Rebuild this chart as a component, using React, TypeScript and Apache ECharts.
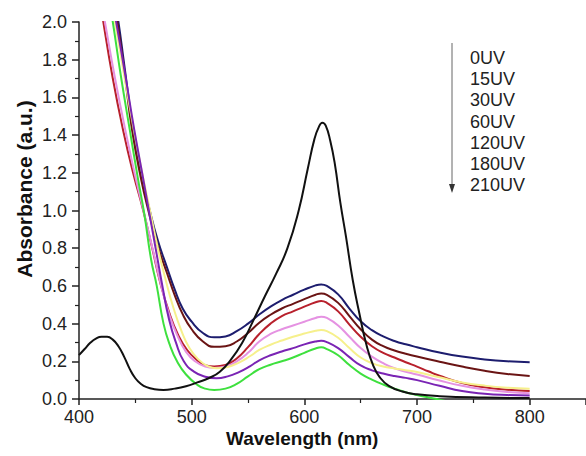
import React, { useEffect, useRef } from "react";
import * as echarts from "echarts";

const FONT = "'Liberation Sans', Arial, Helvetica, sans-serif";

const legendLabels = ["0UV", "15UV", "30UV", "60UV", "120UV", "180UV", "210UV"];
const xAxisTitle = "Wavelength (nm)";
const yAxisTitle = "Absorbance (a.u.)";

// [wavelength nm, absorbance]
const uv0: [number, number][] = [
  [432, 2.1], [435, 2.0], [440, 1.78], [448, 1.43], [455, 1.2], [462, 1.02], [470, 0.84],
  [478, 0.7], [485, 0.58], [492, 0.48], [500, 0.41], [510, 0.35], [520, 0.327], [530, 0.332],
  [540, 0.36], [550, 0.4], [560, 0.448], [570, 0.49], [580, 0.525], [590, 0.553], [600, 0.58],
  [610, 0.603], [615, 0.608], [620, 0.6], [630, 0.555], [640, 0.48], [650, 0.412], [660, 0.365],
  [670, 0.332], [680, 0.308], [690, 0.29], [700, 0.275], [720, 0.247], [740, 0.225], [760, 0.21],
  [780, 0.2], [800, 0.195],
];
const uv15: [number, number][] = [
  [431, 2.1], [434, 2.0], [440, 1.75], [447, 1.43], [455, 1.17], [462, 0.99], [470, 0.81],
  [478, 0.67], [485, 0.55], [492, 0.45], [500, 0.37], [510, 0.305], [520, 0.277], [530, 0.28],
  [540, 0.305], [550, 0.35], [560, 0.405], [570, 0.447], [580, 0.48], [590, 0.505], [600, 0.53],
  [610, 0.553], [615, 0.56], [620, 0.553], [630, 0.51], [640, 0.44], [650, 0.37], [660, 0.315],
  [670, 0.28], [680, 0.257], [690, 0.24], [700, 0.225], [720, 0.198], [740, 0.172], [760, 0.15],
  [780, 0.133], [800, 0.122],
];
const uv30: [number, number][] = [
  [418, 2.15], [421.6, 2.0], [430, 1.7], [439, 1.43], [448, 1.2], [457, 1.0], [465, 0.8],
  [472, 0.62], [480, 0.46], [488, 0.34], [496, 0.26], [505, 0.205], [512, 0.18], [520, 0.172],
  [530, 0.18], [540, 0.215], [550, 0.275], [560, 0.345], [570, 0.4], [580, 0.44], [590, 0.465],
  [600, 0.49], [610, 0.513], [615, 0.52], [620, 0.51], [630, 0.465], [640, 0.395], [650, 0.33],
  [660, 0.28], [670, 0.245], [680, 0.22], [690, 0.195], [700, 0.172], [710, 0.147], [720, 0.123],
  [740, 0.085], [760, 0.062], [780, 0.049], [800, 0.042],
];
const uv60: [number, number][] = [
  [420, 2.1], [423, 2.0], [432, 1.7], [441, 1.43], [450, 1.18], [458, 0.98], [466, 0.78],
  [473, 0.6], [480, 0.45], [487, 0.34], [495, 0.25], [503, 0.2], [512, 0.172], [520, 0.165],
  [530, 0.172], [540, 0.2], [550, 0.245], [560, 0.305], [570, 0.345], [580, 0.37], [590, 0.39],
  [600, 0.41], [610, 0.43], [615, 0.437], [620, 0.43], [630, 0.39], [640, 0.33], [650, 0.27],
  [660, 0.225], [670, 0.19], [680, 0.163], [690, 0.145], [700, 0.13], [720, 0.098], [740, 0.07],
  [760, 0.05], [780, 0.037], [800, 0.03],
];
const uv120: [number, number][] = [
  [429, 2.1], [432, 2.0], [440, 1.72], [448, 1.45], [456, 1.2], [463, 1.0], [470, 0.8],
  [477, 0.63], [484, 0.48], [491, 0.36], [498, 0.27], [506, 0.21], [514, 0.175], [522, 0.163],
  [532, 0.17], [542, 0.193], [552, 0.228], [560, 0.26], [570, 0.288], [580, 0.31], [590, 0.33],
  [600, 0.347], [610, 0.362], [615, 0.366], [620, 0.36], [630, 0.325], [640, 0.27], [650, 0.22],
  [660, 0.19], [670, 0.172], [680, 0.162], [690, 0.153], [700, 0.143], [720, 0.115], [740, 0.088],
  [760, 0.071], [780, 0.06], [800, 0.055],
];
const uv180: [number, number][] = [
  [430, 2.1], [433, 2.0], [441, 1.72], [449, 1.43], [456, 1.2], [462, 1.0], [468, 0.8],
  [474, 0.6], [480, 0.42], [486, 0.3], [493, 0.2], [502, 0.145], [512, 0.118], [522, 0.11],
  [532, 0.12], [542, 0.143], [552, 0.175], [560, 0.205], [570, 0.232], [580, 0.252], [590, 0.27],
  [600, 0.29], [610, 0.305], [615, 0.309], [620, 0.302], [630, 0.27], [640, 0.222], [650, 0.178],
  [660, 0.152], [670, 0.135], [680, 0.122], [690, 0.112], [700, 0.1], [720, 0.07], [740, 0.042],
  [760, 0.028], [780, 0.021], [800, 0.018],
];
const uv210: [number, number][] = [
  [427, 2.1], [430, 2.0], [437, 1.72], [445, 1.43], [452, 1.18], [458, 0.98], [464, 0.74],
  [469, 0.6], [475, 0.4], [481, 0.28], [487, 0.2], [495, 0.13], [505, 0.075], [512, 0.055],
  [520, 0.048], [530, 0.055], [540, 0.08], [550, 0.12], [560, 0.158], [570, 0.182], [580, 0.2],
  [590, 0.22], [600, 0.245], [610, 0.268], [615, 0.274], [620, 0.265], [630, 0.232], [640, 0.18],
  [650, 0.135], [660, 0.103], [670, 0.077], [680, 0.055], [690, 0.036], [700, 0.021], [710, 0.008],
  [720, -0.004], [740, -0.03],
];
const dye: [number, number][] = [
  [400, 0.233], [405, 0.265], [410, 0.298], [415, 0.32], [420, 0.33], [425, 0.33], [430, 0.315],
  [435, 0.28], [440, 0.225], [445, 0.16], [450, 0.11], [455, 0.08], [460, 0.063], [467, 0.052],
  [475, 0.048], [485, 0.055], [495, 0.068], [505, 0.088], [515, 0.11], [525, 0.145], [535, 0.21],
  [545, 0.3], [555, 0.42], [565, 0.545], [575, 0.665], [585, 0.8], [595, 1.0], [603, 1.22],
  [609, 1.38], [613, 1.445], [616, 1.466], [619, 1.45], [623, 1.37], [627, 1.25], [632, 1.04],
  [637, 0.86], [643, 0.63], [649, 0.45], [655, 0.29], [661, 0.18], [667, 0.115], [675, 0.07],
  [687, 0.04], [700, 0.025], [720, 0.015], [760, 0.008], [800, 0.005],
];

const seriesList = [
  { name: "0UV", data: uv0, color: "#1d1d6e" },
  { name: "15UV", data: uv15, color: "#6a1414" },
  { name: "30UV", data: uv30, color: "#b8202c" },
  { name: "60UV", data: uv60, color: "#e592e2" },
  { name: "120UV", data: uv120, color: "#f6f08c" },
  { name: "180UV", data: uv180, color: "#7a24b4" },
  { name: "210UV", data: uv210, color: "#3ee03e" },
  { name: "dye", data: dye, color: "#111111" },
];

export default function App() {
  const ref = useRef<HTMLDivElement>(null);
  useEffect(() => {
    if (!ref.current) return;
    const chart = echarts.init(ref.current, null, { renderer: "svg" });
    const legendGraphics: any[] = legendLabels.map((t, i) => ({
      type: "text",
      left: 470,
      top: 49 + i * 21.2,
      style: { text: t, font: `18px ${FONT}`, fill: "#222" },
    }));
    chart.setOption({
      animation: false,
      backgroundColor: "#ffffff",
      grid: { left: 79, right: 0, top: 22, bottom: 57, containLabel: false },
      xAxis: {
        type: "value",
        min: 400,
        max: 850,
        interval: 100,
        axisLine: { show: true, lineStyle: { color: "#222", width: 1.5 } },
        axisTick: { show: true, inside: false, length: 6, lineStyle: { color: "#222", width: 1.5 } },
        minorTick: { show: true, splitNumber: 2, length: 4, lineStyle: { color: "#222", width: 1.2 } },
        splitLine: { show: false },
        minorSplitLine: { show: false },
        axisLabel: {
          show: true,
          margin: 9,
          fontSize: 18,
          fontFamily: FONT,
          color: "#222",
          showMaxLabel: false,
          formatter: (v: number) => (v > 800 ? "" : String(v)),
        },
      },
      yAxis: {
        type: "value",
        min: 0,
        max: 2,
        interval: 0.2,
        axisLine: { show: true, lineStyle: { color: "#222", width: 1.5 } },
        axisTick: { show: true, inside: false, length: 7, lineStyle: { color: "#222", width: 1.5 } },
        minorTick: { show: true, splitNumber: 2, length: 4, lineStyle: { color: "#222", width: 1.2 } },
        splitLine: { show: false },
        minorSplitLine: { show: false },
        axisLabel: {
          margin: 12,
          fontSize: 18,
          fontFamily: FONT,
          color: "#222",
          formatter: (v: number) => v.toFixed(1),
        },
      },
      series: seriesList.map((s) => ({
        name: s.name,
        type: "line",
        data: s.data,
        showSymbol: false,
        symbol: "none",
        smooth: 0.5,
        clip: true,
        lineStyle: { color: s.color, width: 2 },
        itemStyle: { color: s.color },
      })),
      graphic: [
        {
          type: "line",
          shape: { x1: 452, y1: 43, x2: 452, y2: 186 },
          style: { stroke: "#666", lineWidth: 1 },
        },
        {
          type: "polygon",
          shape: { points: [[449, 184], [455, 184], [452, 193]] },
          style: { fill: "#333" },
        },
        ...legendGraphics,
        {
          type: "text",
          left: 226,
          top: 429,
          style: { text: xAxisTitle, font: `bold 19px ${FONT}`, fill: "#111" },
        },
        {
          type: "text",
          x: 24,
          y: 189,
          rotation: Math.PI / 2,
          style: {
            text: yAxisTitle,
            font: `bold 21px ${FONT}`,
            fill: "#111",
            align: "center",
            verticalAlign: "middle",
          },
        },
      ],
    });
    return () => chart.dispose();
  }, []);
  return (
    <div
      ref={ref}
      style={{ position: "fixed", left: 0, top: 0, width: 586, height: 456, background: "#fff" }}
    />
  );
}
